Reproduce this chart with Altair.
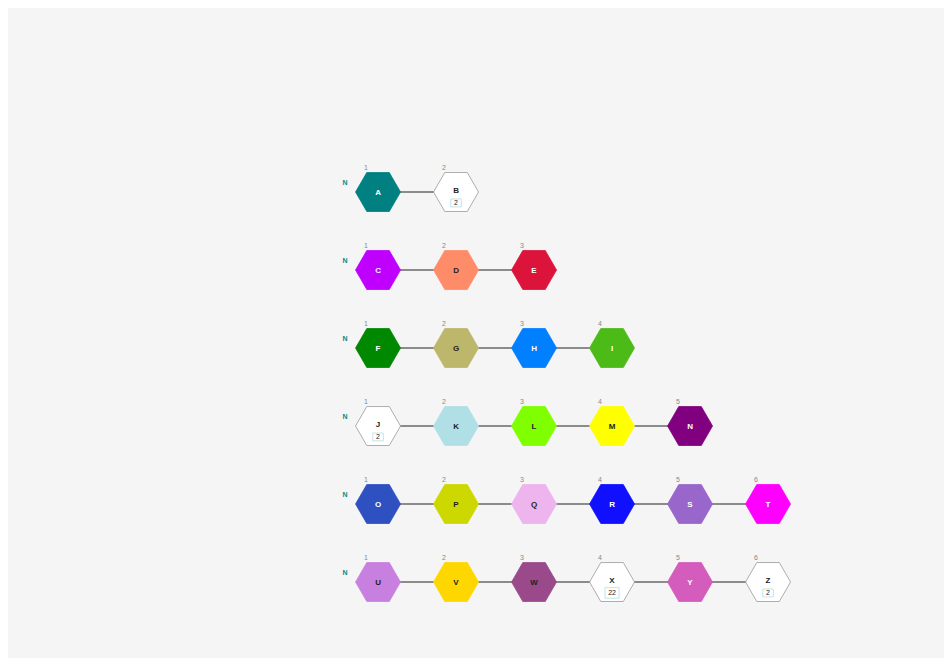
import altair as alt
import pandas as pd

rows = [
    ["A", "B"],
    ["C", "D", "E"],
    ["F", "G", "H", "I"],
    ["J", "K", "L", "M", "N"],
    ["O", "P", "Q", "R", "S", "T"],
    ["U", "V", "W", "X", "Y", "Z"],
]
fills = {
    "A": "#008080", "B": "#ffffff", "C": "#bf00ff", "D": "#ff8c69", "E": "#dc143c",
    "F": "#008800", "G": "#bdb76b", "H": "#0080ff", "I": "#4cbb17", "J": "#ffffff",
    "K": "#b0e0e6", "L": "#7fff00", "M": "#ffff00", "N": "#800080", "O": "#2e50c0",
    "P": "#cdd800", "Q": "#eeb4ee", "R": "#1010ff", "S": "#9966cc", "T": "#ff00ff",
    "U": "#c880e0", "V": "#ffd700", "W": "#9a4a8a", "X": "#ffffff", "Y": "#d45cbc",
    "Z": "#ffffff",
}
dark_text = set("BDGJKLMPQUVWX Z".replace(" ", ""))
badges = {"B": "2", "J": "2", "X": "22", "Z": "2"}

recs = []
for r, names in enumerate(rows, start=1):
    for c, n in enumerate(names, start=1):
        recs.append(dict(row=r, col=c, name=n, fill=fills[n],
                         stroke="#999999" if fills[n] == "#ffffff" else fills[n],
                         tcol="#222222" if n in dark_text else "#ffffff",
                         idx=str(c), badge=badges.get(n, ""),
                         ty=r + (-0.01 if n in badges else 0.01)))
df = pd.DataFrame(recs)
lines = pd.DataFrame([dict(row=r, c1=1, c2=len(n)) for r, n in enumerate(rows, start=1)])
heads = pd.DataFrame([dict(row=r, col=1, t="N") for r in range(1, 7)])
bdf = df[df.badge != ""].copy()
bdf["by"] = bdf.row + 0.14
bdf["bsize"] = bdf.badge.str.len().map({1: 110, 2: 200})

X = alt.Scale(domain=[-3.744, 8.256])
Y = alt.Scale(domain=[-1.359, 6.974], reverse=True)
HEX = "M -1 0 L -0.5 -0.866 L 0.5 -0.866 L 1 0 L 0.5 0.866 L -0.5 0.866 Z"
BOX = "M -1 -0.75 L 1 -0.75 L 1 0.75 L -1 0.75 Z"
ax = dict(axis=None)

edges = alt.Chart(lines).mark_rule(color="#222222", strokeWidth=1.2).encode(
    x=alt.X("c1:Q", scale=X, **ax), x2="c2:Q", y=alt.Y("row:Q", scale=Y, **ax))
hexes = alt.Chart(df).mark_point(shape=HEX, size=2025, filled=True, opacity=1,
                                 strokeWidth=0.8).encode(
    x=alt.X("col:Q", scale=X, **ax), y=alt.Y("row:Q", scale=Y, **ax),
    fill=alt.Fill("fill:N", scale=None), stroke=alt.Stroke("stroke:N", scale=None))
labels = alt.Chart(df).mark_text(fontSize=8, fontWeight="bold", font="Arial").encode(
    x=alt.X("col:Q", scale=X, **ax), y=alt.Y("ty:Q", scale=Y, **ax),
    text="name:N", color=alt.Color("tcol:N", scale=None))
idx = alt.Chart(df).mark_text(fontSize=7, color="#888888", dx=-12, dy=-24,
                              font="Arial").encode(
    x=alt.X("col:Q", scale=X, **ax), y=alt.Y("row:Q", scale=Y, **ax), text="idx:N")
boxes = alt.Chart(bdf).mark_point(shape=BOX, filled=True, fill="#ffffff",
                                  stroke="#b0dde8", strokeWidth=0.8, opacity=1).encode(
    x=alt.X("col:Q", scale=X, **ax), y=alt.Y("by:Q", scale=Y, **ax),
    size=alt.Size("bsize:Q", scale=None))
btext = alt.Chart(bdf).mark_text(fontSize=7, color="#222222", font="Arial").encode(
    x=alt.X("col:Q", scale=X, **ax), y=alt.Y("by:Q", scale=Y, **ax), text="badge:N")
ntext = alt.Chart(heads).mark_text(fontSize=7, fontWeight="bold", color="#008b8b",
                                   dx=-33, dy=-9, font="Arial").encode(
    x=alt.X("col:Q", scale=X, **ax), y=alt.Y("row:Q", scale=Y, **ax), text="t:N")

chart = alt.layer(edges, hexes, labels, idx, boxes, btext, ntext).properties(
    width=936, height=650, padding=0, autosize="none", background="#f5f5f5"
).configure_view(stroke=None)

chart.save("out.html", embed_options={"renderer": "svg", "actions": False})
